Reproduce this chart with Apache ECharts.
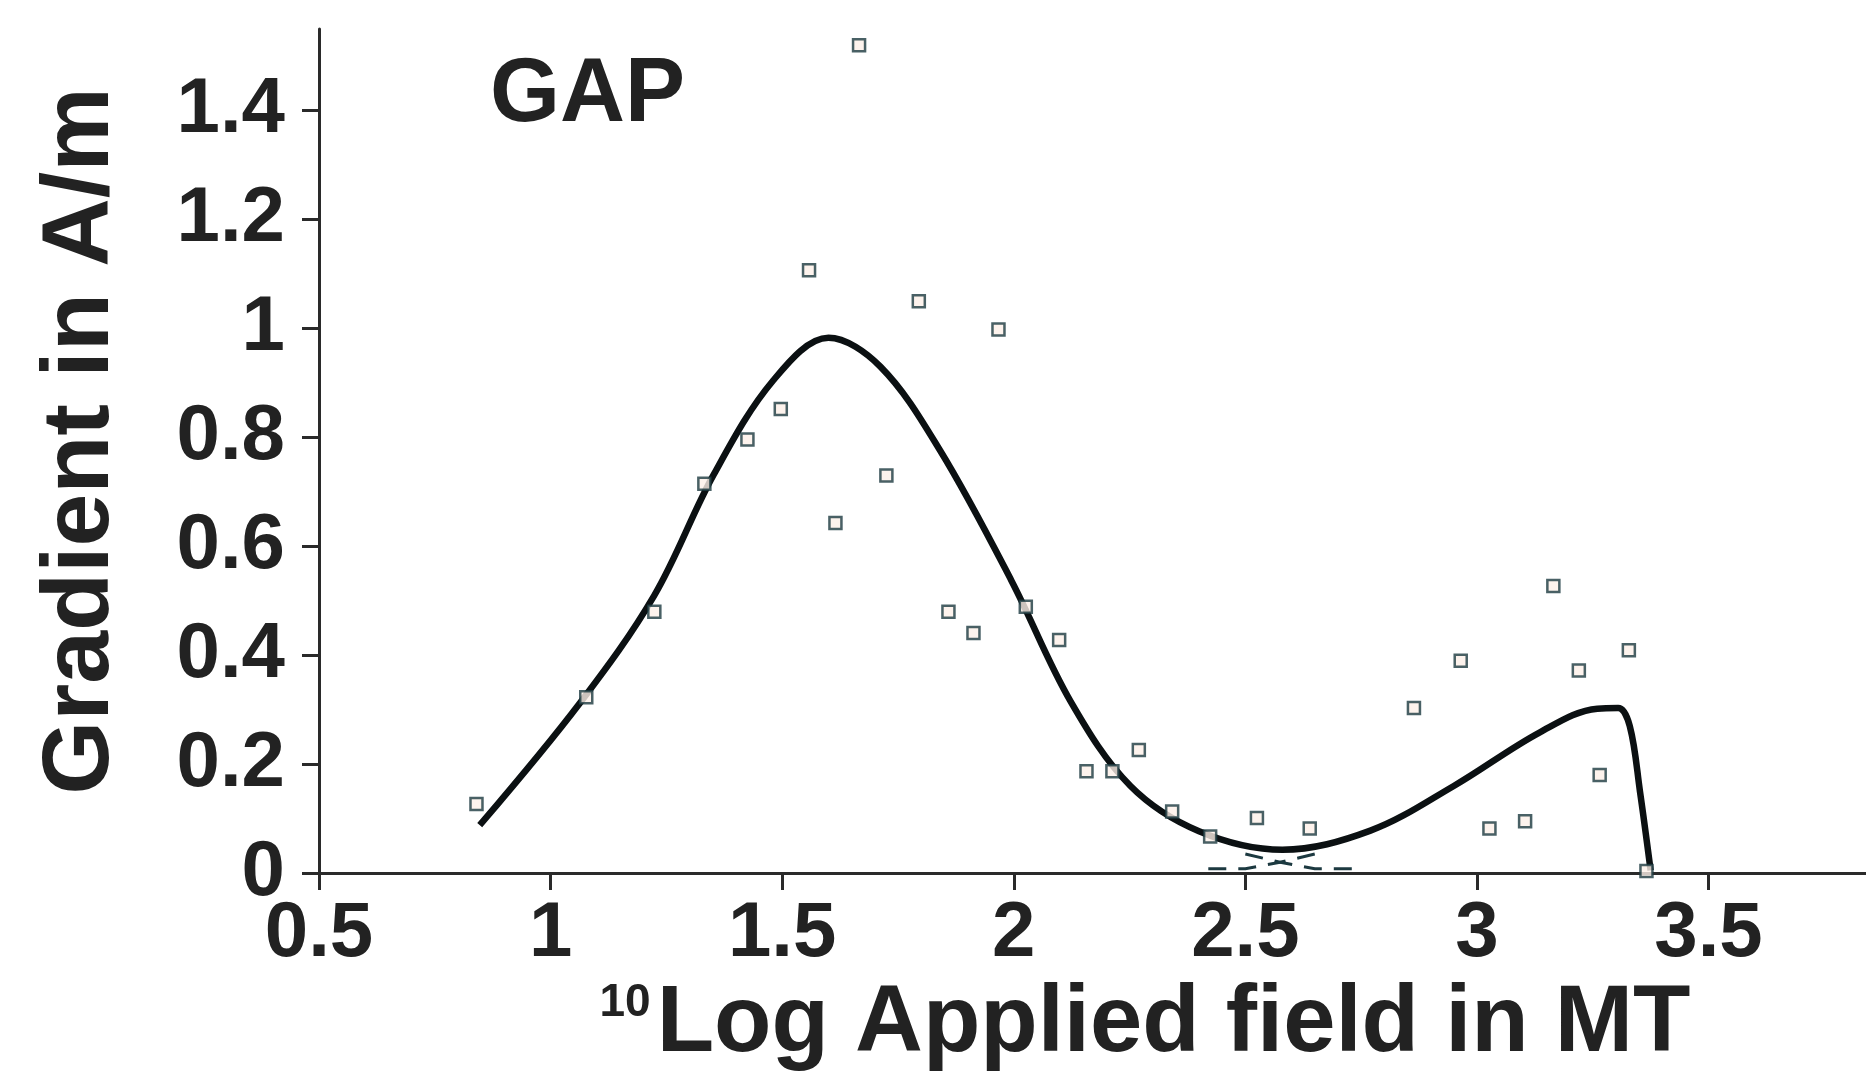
<!DOCTYPE html>
<html><head><meta charset="utf-8">
<script src="https://cdn.jsdelivr.net/npm/echarts@6/dist/echarts.min.js"></script>
<style>html,body{margin:0;padding:0;background:#fff}#c{width:1866px;height:1077px}</style>
</head><body><div id="c"></div>
<script>
const xTicks = [0.5, 1, 1.5, 2, 2.5, 3, 3.5];
const yTicks = [0, 0.2, 0.4, 0.6, 0.8, 1, 1.2, 1.4];

const pointX = [0.840, 1.077, 1.224, 1.332, 1.425, 1.497, 1.558, 1.615, 1.666, 1.725, 1.795, 1.859, 1.913, 1.967, 2.026, 2.098, 2.157, 2.213, 2.270, 2.342, 2.424, 2.525, 2.639, 2.864, 2.965, 3.027, 3.104, 3.165, 3.220, 3.265, 3.328, 3.366];
const pointY = [0.127, 0.323, 0.480, 0.715, 0.796, 0.852, 1.107, 0.643, 1.520, 0.730, 1.050, 0.480, 0.441, 0.998, 0.489, 0.428, 0.187, 0.187, 0.226, 0.113, 0.067, 0.101, 0.082, 0.303, 0.390, 0.082, 0.095, 0.527, 0.372, 0.180, 0.409, 0.004];

const curveX = [0.847, 1.063, 1.224, 1.353, 1.481, 1.60, 1.712, 1.841, 1.995, 2.123, 2.252, 2.40, 2.58, 2.77, 2.95, 3.135, 3.26, 3.305, 3.33, 3.352, 3.375];
const curveY = [0.088, 0.312, 0.510, 0.733, 0.905, 0.983, 0.930, 0.776, 0.537, 0.315, 0.160, 0.077, 0.043, 0.078, 0.160, 0.258, 0.302, 0.303, 0.270, 0.150, 0.005];

const crossAX = [2.50, 2.575, 2.65, 2.75];
const crossAY = [0.035, 0.020, 0.008, 0.008];
const crossBX = [2.42, 2.50, 2.575, 2.65];
const crossBY = [0.008, 0.008, 0.020, 0.035];

const FONT = '"Liberation Sans", Arial, Helvetica, sans-serif';
const zip = (xs, ys) => xs.map((x, i) => [x, ys[i]]);

const chart = echarts.init(document.getElementById('c'), null, {renderer: 'canvas'});
chart.setOption({
  animation: false,
  backgroundColor: '#ffffff',
  title: {
    text: 'GAP', left: 490, top: 51, padding: 0,
    textStyle: {fontFamily: FONT, fontWeight: 'bold', fontSize: 90, color: '#222'}
  },
  grid: {left: 319, right: 0, top: 29, bottom: 200, containLabel: false},
  xAxis: {
    type: 'value', min: 0.5, max: 3.84,
    name: '{s|10}{m|Log Applied field in MT}',
    nameLocation: 'middle', nameGap: 97,
    nameTextStyle: {
      padding: [0, 0, 0, 105],
      rich: {
        s: {fontFamily: FONT, fontWeight: 'bold', fontSize: 46, color: '#222', verticalAlign: 'top', padding: [2, 6, 0, 0]},
        m: {fontFamily: FONT, fontWeight: 'bold', fontSize: 94, color: '#222'}
      }
    },
    splitLine: {show: false},
    axisLine: {onZero: false, lineStyle: {color: '#2a2a2a', width: 3}},
    axisTick: {show: true, inside: false, length: 17, customValues: xTicks, lineStyle: {color: '#2a2a2a', width: 3}},
    axisLabel: {customValues: xTicks, margin: 22, fontFamily: FONT, fontWeight: 'bold', fontSize: 78, color: '#222'}
  },
  yAxis: {
    type: 'value', min: 0, max: 1.55,
    name: 'Gradient in A/m',
    nameLocation: 'middle', nameGap: 190, nameRotate: 90,
    nameTextStyle: {fontFamily: FONT, fontWeight: 'bold', fontSize: 95, color: '#222', padding: [0, 0, 0, 20]},
    splitLine: {show: false},
    axisLine: {onZero: false, lineStyle: {color: '#2a2a2a', width: 3}},
    axisTick: {show: true, inside: false, length: 17, customValues: yTicks, lineStyle: {color: '#2a2a2a', width: 3}},
    axisLabel: {customValues: yTicks, margin: 34, fontFamily: FONT, fontWeight: 'bold', fontSize: 78, color: '#222'}
  },
  series: [
    {
      type: 'line', data: zip(crossAX, crossAY), showSymbol: false, smooth: false, z: 2,
      lineStyle: {color: '#1c3940', width: 3, type: [18, 12]}
    },
    {
      type: 'line', data: zip(crossBX, crossBY), showSymbol: false, smooth: false, z: 2,
      lineStyle: {color: '#1c3940', width: 3, type: [18, 12]}
    },
    {
      type: 'line', data: zip(curveX, curveY), showSymbol: false, smooth: 0.35, z: 3,
      lineStyle: {color: '#0b1012', width: 6.5}
    },
    {
      type: 'scatter', data: zip(pointX, pointY), symbol: 'rect', symbolSize: 12, z: 4,
      itemStyle: {color: '#fdf0e8', borderColor: '#1c3940', borderWidth: 2.5}
    }
  ]
});
</script>
</body></html>
